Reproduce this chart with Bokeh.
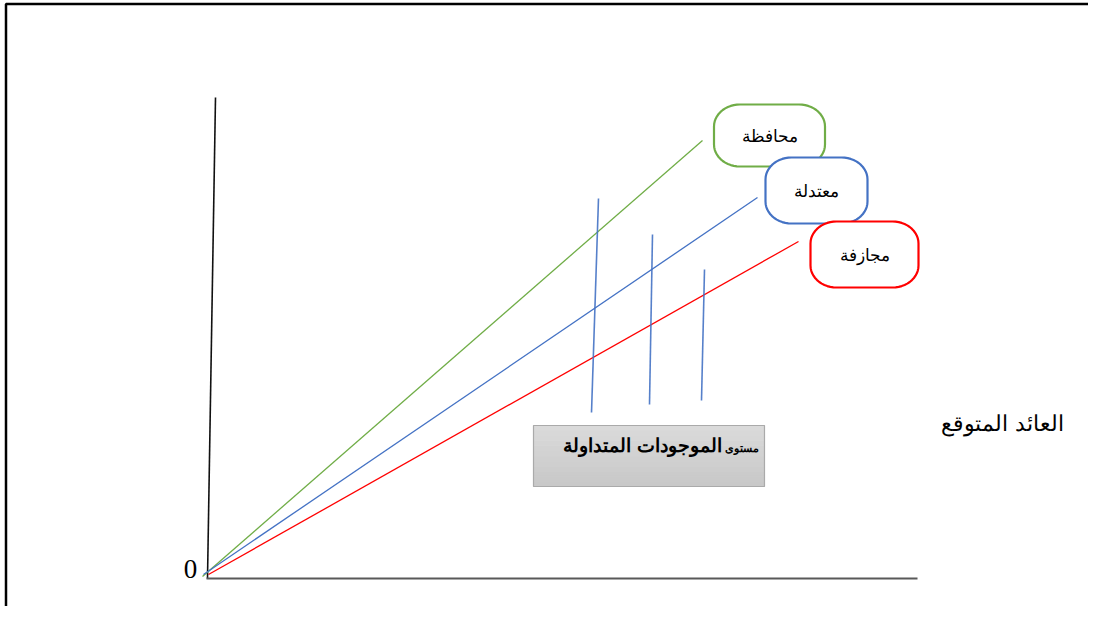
import numpy as np
from bokeh.plotting import figure
from bokeh.models import Range1d
from bokeh.core.properties import value
from bokeh.embed import file_html
from bokeh.resources import INLINE

# ---- data (diagram coordinates: origin at the axes corner, units ~ pixels) ----
series = ["محافظة", "معتدلة", "مجازفة"]
series_colors = ["#70AD47", "#4472C4", "#FF0000"]
line_x0 = [-5, -4, 1]
line_y0 = [2, 4, 4]
line_x1 = [495, 550, 591]
line_y1 = [438, 381, 337]

label_cx = [562, 609, 657]
label_cy = [443, 388, 324]
label_w = [111, 102, 108]
label_h = [62, 66, 66]

tick_x0 = [391, 445, 497]
tick_y0 = [380, 344, 309]
tick_x1 = [384, 442, 494]
tick_y1 = [166, 174, 178]

box_left, box_right, box_bottom, box_top = 326, 557, 92, 153
box_text_bold = "الموجودات المتداولة"
box_text_small = "مستوى"

y_axis_x = [0, 8]
y_axis_y = [0, 481]
x_axis_x = [-1, 710]
x_axis_y = [0, 0]

axis_label = "العائد المتوقع"
origin_label = "0"

# ---- figure ----
p = figure(width=1088, height=606, x_range=Range1d(-207, 881), y_range=Range1d(-28, 578),
           output_backend="svg", toolbar_location=None, min_border=0,
           x_axis_location=None, y_axis_location=None)
p.grid.visible = False
p.outline_line_color = None
p.background_fill_color = "white"

# outer frame (left and top edges visible)
p.line([-201.5, -201.5, 900], [-40, 574.5, 574.5], line_color="black", line_width=2.5)

# axes
p.line(y_axis_x, y_axis_y, line_color="#111111", line_width=1.6)
p.line(x_axis_x, x_axis_y, line_color="#595959", line_width=2)

# rays
for i in range(3):
    p.line([line_x0[i], line_x1[i]], [line_y0[i], line_y1[i]],
           line_color=series_colors[i], line_width=1.3)

# vertical markers
p.multi_line([[tick_x0[i], tick_x1[i]] for i in range(3)],
             [[tick_y0[i], tick_y1[i]] for i in range(3)],
             line_color="#4472C4", line_width=1.6, line_alpha=0.9)

# gray box with gradient
n = 12
edges = np.linspace(box_bottom, box_top, n + 1)
c_top = np.array([0xdb, 0xdb, 0xdb])
c_bot = np.array([0xc8, 0xc8, 0xc8])
cols = []
for k in range(n):
    t = (k + 0.5) / n
    c = (c_bot * (1 - t) + c_top * t).astype(int)
    cols.append("#%02x%02x%02x" % tuple(c))
p.quad(left=[box_left] * n, right=[box_right] * n, bottom=edges[:-1], top=edges[1:],
       fill_color=cols, line_color=cols, line_width=1)
p.quad(left=[box_left], right=[box_right], bottom=[box_bottom], top=[box_top],
       fill_color=None, line_color="#aaaaaa", line_width=1.2)
p.text([514], [133], text=[box_text_bold], text_align="right", text_baseline="middle",
       text_font=value("Liberation Sans"), text_font_size="19px", text_font_style="bold",
       text_color="black")
p.text([517], [131], text=[box_text_small], text_align="left", text_baseline="middle",
       text_font=value("Liberation Sans"), text_font_size="11px", text_font_style="bold",
       text_color="black")

# rounded label boxes
def rounded(cx, cy, w, h, rx=26, ry=22, m=14):
    xs, ys = [], []
    corners = [(cx + w / 2 - rx, cy + h / 2 - ry, 0),
               (cx - w / 2 + rx, cy + h / 2 - ry, 90),
               (cx - w / 2 + rx, cy - h / 2 + ry, 180),
               (cx + w / 2 - rx, cy - h / 2 + ry, 270)]
    for (ox, oy, a0) in corners:
        a = np.radians(np.linspace(a0, a0 + 90, m))
        xs.extend(ox + rx * np.cos(a))
        ys.extend(oy + ry * np.sin(a))
    return xs, ys

for i in range(3):
    xs, ys = rounded(label_cx[i], label_cy[i], label_w[i], label_h[i])
    p.patch(xs, ys, fill_color="white", line_color=series_colors[i], line_width=2.2)
    p.text([label_cx[i]], [label_cy[i] - 1], text=[series[i]], text_align="center",
           text_baseline="middle", text_font=value("Liberation Sans"),
           text_font_size="17px", text_color="black")

# free labels
p.text([795], [155], text=[axis_label], text_align="center", text_baseline="middle",
       text_font=value("Liberation Sans"), text_font_size="22px", text_color="black")
p.text([-17], [10], text=[origin_label], text_align="center", text_baseline="middle",
       text_font=value("Liberation Serif"), text_font_size="27px", text_color="black")

open("out.html", "w").write(file_html(p, INLINE))
